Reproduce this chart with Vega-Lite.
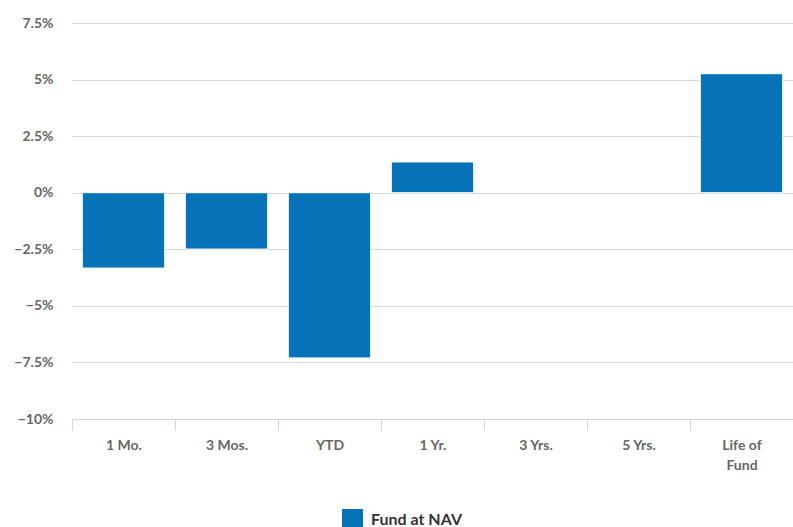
{
  "$schema": "https://vega.github.io/schema/vega-lite/v6.json",
  "width": 721,
  "height": 396,
  "autosize": "none",
  "padding": {"left": 72, "top": 23, "right": 0, "bottom": 108},
  "background": "#ffffff",
  "data": {
    "values": [
      {"period": "1 Mo.", "value": -3.33, "series": "Fund at NAV"},
      {"period": "3 Mos.", "value": -2.49, "series": "Fund at NAV"},
      {"period": "YTD", "value": -7.30, "series": "Fund at NAV"},
      {"period": "1 Yr.", "value": 1.36, "series": "Fund at NAV"},
      {"period": "3 Yrs.", "value": null, "series": "Fund at NAV"},
      {"period": "5 Yrs.", "value": null, "series": "Fund at NAV"},
      {"period": "Life of Fund", "value": 5.26, "series": "Fund at NAV"}
    ]
  },
  "config": {
    "view": {"stroke": null},
    "font": "Lato"
  },
  "mark": {"type": "bar", "stroke": "#ffffff", "strokeWidth": 1, "width": {"band": 0.8}},
  "encoding": {
    "x": {
      "field": "period",
      "type": "nominal",
      "sort": null,
      "title": null,
      "scale": {"domain": ["1 Mo.", "3 Mos.", "YTD", "1 Yr.", "3 Yrs.", "5 Yrs.", "Life of Fund"], "paddingInner": 0, "paddingOuter": 0},
      "axis": {
        "labelAngle": 0,
        "labelFont": "Lato",
        "labelFontSize": 14,
        "labelFontWeight": "bold",
        "labelColor": "#666666",
        "labelPadding": 8,
        "labelLineHeight": 20,
        "labelExpr": "datum.label == 'Life of Fund' ? ['Life of', 'Fund'] : datum.label",
        "domainColor": "#ccd6eb",
        "tickColor": "#ccd6eb",
        "tickSize": 11,
        "tickBand": "extent",
        "grid": false
      }
    },
    "y": {
      "field": "value",
      "type": "quantitative",
      "title": null,
      "scale": {"domain": [-10, 7.5], "nice": false, "zero": false},
      "axis": {
        "values": [-10, -7.5, -5, -2.5, 0, 2.5, 5, 7.5],
        "labelExpr": "format(datum.value, '~g') + '%'",
        "labelFont": "Lato",
        "labelFontSize": 14,
        "labelFontWeight": "bold",
        "labelColor": "#666666",
        "labelPadding": 19,
        "domain": false,
        "ticks": false,
        "gridColor": "#d8d8d8",
        "gridWidth": 1
      }
    },
    "color": {
      "field": "series",
      "type": "nominal",
      "scale": {"range": ["#0673b9"]},
      "legend": {
        "title": null,
        "orient": "none",
        "legendX": 270,
        "legendY": 486,
        "symbolType": "square",
        "symbolSize": 440,
        "symbolStrokeWidth": 0,
        "labelFont": "Lato",
        "labelFontSize": 16,
        "labelFontWeight": "bold",
        "labelColor": "#333333",
        "labelOffset": 8
      }
    }
  }
}
